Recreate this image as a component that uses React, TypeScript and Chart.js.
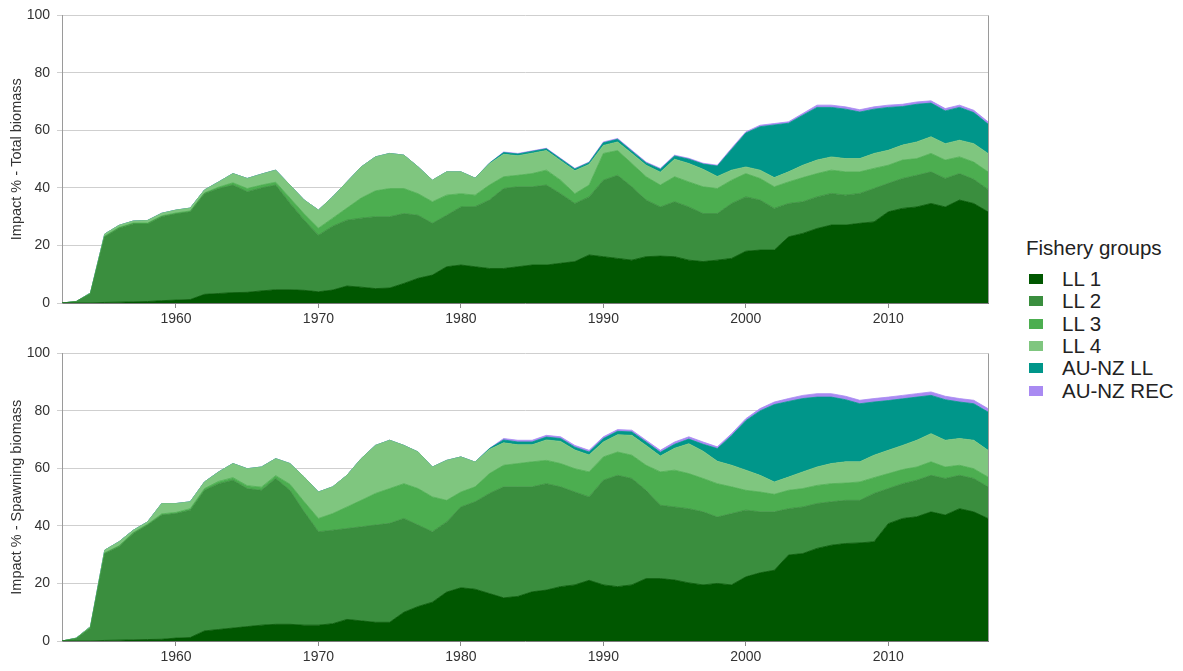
import React, { useEffect, useRef } from "react";
import { Chart, registerables } from "chart.js";

Chart.register(...registerables);

const years = [
  1952, 1953, 1954, 1955, 1956, 1957, 1958, 1959, 1960, 1961,
  1962, 1963, 1964, 1965, 1966, 1967, 1968, 1969, 1970, 1971,
  1972, 1973, 1974, 1975, 1976, 1977, 1978, 1979, 1980, 1981,
  1982, 1983, 1984, 1985, 1986, 1987, 1988, 1989, 1990, 1991,
  1992, 1993, 1994, 1995, 1996, 1997, 1998, 1999, 2000, 2001,
  2002, 2003, 2004, 2005, 2006, 2007, 2008, 2009, 2010, 2011,
  2012, 2013, 2014, 2015, 2016, 2017,
];

const xTickYears = [1960, 1970, 1980, 1990, 2000, 2010];
const yTickValues = [0, 20, 40, 60, 80, 100];

const groupNames = ["LL 1", "LL 2", "LL 3", "LL 4", "AU-NZ LL", "AU-NZ REC"];
const groupColors = ["#005700", "#3a8e3e", "#4cae50", "#7fc67f", "#00968a", "#a98af2"];

// Panel 1: Impact % - Total biomass
const totalLL1 = [
  0, 0, 0, 0.2, 0.3, 0.4, 0.5, 0.8, 1, 1.2,
  3, 3.3, 3.6, 3.7, 4.2, 4.6, 4.6, 4.4, 3.9, 4.5,
  5.9, 5.5, 5, 5.2, 6.8, 8.6, 9.7, 12.6, 13.2, 12.6,
  12, 12, 12.6, 13.2, 13.2, 13.8, 14.4, 16.7, 16.1, 15.5,
  14.9, 16.1, 16.3, 16.1, 14.9, 14.4, 14.9, 15.5, 18, 18.4,
  18.4, 23, 24.2, 25.9, 27.1, 27.1, 27.7, 28.2, 31.7, 32.9,
  33.4, 34.6, 33.4, 35.8, 34.6, 31.7,
];
const totalLL2 = [
  0, 0.5, 3.2, 22.8, 25.7, 27.1, 27, 29.2, 30, 30.5,
  35, 36.5, 37.4, 35, 35.8, 36.4, 30.1, 24.4, 19.7, 22.2,
  22.9, 24, 25, 24.8, 24.3, 21.9, 18, 17.9, 20.2, 20.9,
  23.8, 27.8, 27.8, 27.2, 27.8, 24.2, 20.2, 20.2, 26.6, 28.9,
  25.5, 19.7, 17.1, 19.1, 18.5, 16.7, 16.2, 19.1, 18.9, 17.4,
  14.5, 11.6, 11, 11, 11, 10.4, 10.4, 11.6, 9.9, 10.4,
  11, 11, 9.9, 9.2, 8.4, 7.8,
];
const totalLL3 = [
  0, 0, 0.1, 0.3, 0.3, 0.3, 0.3, 0.3, 0.3, 0.3,
  0.3, 0.5, 0.8, 1.1, 1, 1, 1.8, 2.2, 2.4, 2.8,
  4.2, 7, 9, 9.8, 8.7, 7.5, 7.5, 7, 4.6, 4,
  5.2, 4.1, 4, 4.6, 5.2, 4.7, 3.4, 4.1, 9.3, 8.6,
  8.1, 8.1, 7.6, 8.7, 8.7, 9.3, 8.7, 8.1, 8.1, 7.5,
  7.5, 7.5, 8.4, 8.1, 8.1, 8.1, 7.5, 7, 6.3, 6.4,
  5.8, 6.4, 6.4, 5.8, 6, 6.1,
];
const totalLL4 = [
  0, 0, 0.2, 0.7, 0.7, 0.7, 0.9, 0.9, 1, 1,
  1, 1.8, 3.2, 3.5, 3.8, 4.2, 4.5, 4.8, 6.3, 7.4,
  9.1, 10.8, 11.8, 12.2, 11.6, 9.3, 7.5, 8.1, 7.6, 5.9,
  7.4, 7.8, 6.8, 7.1, 6.8, 6.8, 8, 7.2, 2.8, 3,
  3.5, 4, 4.5, 6.1, 6.4, 6.1, 4.2, 3.5, 2.3, 2.9,
  3.2, 3.5, 4.3, 4.7, 4.6, 4.6, 4.6, 5.2, 5.2, 5.2,
  5.8, 5.8, 5.7, 5.8, 6.4, 6.4,
];
const totalAUNZLL = [
  0, 0, 0, 0, 0, 0, 0, 0, 0, 0,
  0, 0, 0, 0, 0, 0, 0, 0, 0, 0,
  0, 0, 0, 0, 0, 0, 0, 0, 0, 0,
  0.2, 0.6, 0.6, 0.6, 0.6, 0.6, 0.6, 0.6, 0.9, 0.9,
  0.8, 0.8, 1, 1.1, 1.5, 1.8, 3.6, 7.2, 11.8, 15.1,
  18.3, 16.9, 17.4, 18.3, 17.2, 17.2, 16.2, 15.4, 14.9, 13.4,
  13.1, 11.7, 11.4, 11.4, 10.8, 10.2,
];
const totalAUNZREC = [
  0, 0, 0, 0, 0, 0, 0, 0, 0, 0,
  0, 0, 0, 0, 0, 0, 0, 0, 0, 0,
  0, 0, 0, 0, 0, 0, 0, 0, 0, 0,
  0, 0.2, 0.2, 0.2, 0.2, 0.2, 0.2, 0.2, 0.3, 0.3,
  0.3, 0.3, 0.3, 0.3, 0.3, 0.3, 0.3, 0.4, 0.4, 0.5,
  0.5, 0.5, 0.6, 0.8, 0.8, 0.8, 0.8, 0.8, 0.8, 0.8,
  0.8, 0.8, 0.8, 0.8, 0.8, 0.8,
];

// Panel 2: Impact % - Spawning biomass
const spawnLL1 = [
  0, 0, 0, 0.2, 0.3, 0.4, 0.5, 0.6, 1, 1.2,
  3.5, 4, 4.5, 5, 5.5, 5.8, 5.8, 5.5, 5.5, 6,
  7.5, 7, 6.5, 6.5, 10, 12, 13.5, 17, 18.5, 18,
  16.5, 15, 15.5, 17.1, 17.7, 18.9, 19.5, 21.1, 19.5, 18.9,
  19.5, 21.7, 21.7, 21.2, 20.2, 19.5, 20, 19.5, 22.3, 23.7,
  24.6, 29.9, 30.4, 32.2, 33.3, 33.9, 34.1, 34.5, 40.8, 42.6,
  43.2, 44.9, 43.8, 46, 44.9, 42.6,
];
const spawnLL2 = [
  0, 0.8, 4.5, 30.2, 32.5, 37, 39.8, 43.2, 43.3, 44.3,
  48.9, 50.7, 51.4, 48, 46.9, 50.7, 46.6, 39.4, 32.5, 32.5,
  31.6, 32.7, 33.8, 34.4, 32.6, 28.3, 24.5, 24.4, 28.1, 30.4,
  34.8, 38.6, 38.1, 36.5, 37, 34.7, 32.3, 29, 36.4, 38.7,
  37, 30.7, 25.5, 25.4, 25.8, 25.4, 23.1, 24.8, 23.2, 21.2,
  20.3, 16.1, 16.2, 15.6, 15.1, 15, 14.8, 16.8, 12.2, 12.1,
  12.7, 12.7, 12.7, 11.6, 11.6, 11,
];
const spawnLL3 = [
  0, 0.1, 0.2, 0.3, 0.3, 0.3, 0.3, 0.4, 0.4, 0.5,
  0.6, 0.8, 0.9, 1, 1.1, 1, 2.1, 3.5, 4.6, 5.8,
  7.5, 9.2, 11, 12.1, 12.1, 12.7, 12.1, 7.5, 5.2, 5.2,
  6.9, 7.5, 8.1, 8.7, 8.1, 8.1, 8.1, 8.7, 8.1, 8.1,
  8.1, 8.7, 11.6, 12.8, 12.2, 11.6, 11.6, 9.3, 6.9, 6.9,
  6.1, 6.4, 6.4, 6.3, 6.3, 6, 6.4, 5.5, 5.2, 4.9,
  4.6, 4.7, 4, 3.5, 3.4, 3.4,
];
const spawnLL4 = [
  0, 0.1, 0.3, 0.9, 1.4, 0.8, 0.8, 3.6, 3.1, 2.4,
  2.3, 3.3, 4.9, 5.9, 7, 5.9, 7.2, 8.6, 9.2, 9.3,
  11, 14.5, 16.7, 16.8, 13.3, 12.7, 10.4, 13.9, 12.2, 8.6,
  8.4, 7.8, 6.5, 5.9, 7.1, 7.7, 6.5, 5.9, 5.2, 6,
  6.9, 6.9, 5.5, 7.6, 10.4, 9.5, 7.8, 7.5, 7, 5.8,
  4.3, 4.6, 5.8, 6.4, 7, 7.4, 7, 7.8, 8.1, 8.4,
  9.3, 9.8, 9.3, 9.3, 9.9, 9.3,
];
const spawnAUNZLL = [
  0, 0, 0, 0, 0, 0, 0, 0, 0, 0,
  0, 0, 0, 0, 0, 0, 0, 0, 0, 0,
  0, 0, 0, 0, 0, 0, 0, 0, 0, 0,
  0.3, 1, 1, 1, 1, 1, 1, 1, 1.2, 1.2,
  1.2, 1.2, 1.3, 1.4, 1.6, 2.4, 4.4, 10.3, 17.2, 22.4,
  26.9, 26.3, 25.5, 24.3, 23.1, 21.6, 20.2, 18.5, 17.3, 16.2,
  15, 13.3, 14.1, 12.7, 12.7, 13.3,
];
const spawnAUNZREC = [
  0, 0, 0, 0, 0, 0, 0, 0, 0, 0,
  0, 0, 0, 0, 0, 0, 0, 0, 0, 0,
  0, 0, 0, 0, 0, 0, 0, 0, 0, 0,
  0, 0.5, 0.6, 0.6, 0.6, 0.6, 0.6, 0.6, 0.6, 0.6,
  0.6, 0.6, 0.7, 0.8, 0.8, 0.8, 0.6, 0.7, 0.7, 0.8,
  0.9, 1, 1.1, 1.2, 1.2, 1.2, 1.2, 1.2, 1.2, 1.2,
  1.2, 1.2, 1.2, 1.2, 1.2, 1.2,
];

const totalSeries = [totalLL1, totalLL2, totalLL3, totalLL4, totalAUNZLL, totalAUNZREC];
const spawnSeries = [spawnLL1, spawnLL2, spawnLL3, spawnLL4, spawnAUNZLL, spawnAUNZREC];

const FONT = "'Liberation Sans', Arial, Helvetica, sans-serif";
const TEXT = "#333333";

const rightBorder = {
  id: "rightBorder",
  afterDraw(chart: any) {
    const { ctx, chartArea } = chart;
    ctx.save();
    ctx.strokeStyle = "#9a9a9a";
    ctx.lineWidth = 1;
    ctx.beginPath();
    ctx.moveTo(Math.round(chartArea.right) + 0.5, chartArea.top);
    ctx.lineTo(Math.round(chartArea.right) + 0.5, chartArea.bottom);
    ctx.stroke();
    ctx.restore();
  },
};

function Panel({ top, series, yTitle }: { top: number; series: number[][]; yTitle: string }) {
  const ref = useRef<HTMLCanvasElement>(null);
  useEffect(() => {
    if (!ref.current) return;
    const chart = new Chart(ref.current, {
      type: "line",
      data: {
        datasets: series.map((vals, i) => ({
          label: groupNames[i],
          data: years.map((yr, k) => ({ x: yr, y: vals[k] })),
          backgroundColor: groupColors[i],
          borderColor: groupColors[i],
          borderWidth: 0.8,
          pointRadius: 0,
          pointHoverRadius: 0,
          tension: 0,
          fill: i === 0 ? "origin" : "-1",
        })),
      },
      options: {
        responsive: false,
        animation: false,
        events: [],
        layout: { padding: { left: 8, top: 15, right: 12, bottom: 0 } },
        plugins: {
          legend: { display: false },
          tooltip: { enabled: false },
        },
        scales: {
          x: {
            type: "linear",
            min: 1952,
            max: 2017,
            afterBuildTicks: (s: any) => {
              s.ticks = xTickYears.map((v) => ({ value: v }));
            },
            afterFit: (s: any) => {
              s.height = 27;
            },
            ticks: {
              autoSkip: false,
              maxRotation: 0,
              padding: 3,
              color: TEXT,
              font: { family: FONT, size: 14 },
              callback: (v: any) => String(v),
            },
            grid: { drawOnChartArea: false, drawTicks: true, tickLength: 5, color: "#8a8a8a" },
            border: { color: "#7a7a7a", width: 1 },
          },
          y: {
            type: "linear",
            stacked: true,
            min: 0,
            max: 100,
            afterBuildTicks: (s: any) => {
              s.ticks = yTickValues.map((v) => ({ value: v }));
            },
            afterFit: (s: any) => {
              s.width = 54;
            },
            ticks: {
              padding: 7,
              color: TEXT,
              font: { family: FONT, size: 14 },
              callback: (v: any) => String(v),
            },
            grid: { color: "#cfcfcf", tickLength: 5, drawTicks: true },
            border: { color: "#9a9a9a", width: 1 },
            title: {
              display: true,
              text: yTitle,
              color: TEXT,
              font: { family: FONT, size: 14.5 },
              padding: { top: 0, bottom: 3 },
            },
          },
        },
      },
      plugins: [rightBorder],
    } as any);
    return () => chart.destroy();
  }, []);
  return (
    <canvas
      ref={ref}
      width={1000}
      height={330}
      style={{ position: "absolute", left: 0, top, width: 1000, height: 330 }}
    />
  );
}

export default function App() {
  return (
    <div
      style={{
        position: "absolute",
        left: 0,
        top: 0,
        width: 1183,
        height: 671,
        background: "#ffffff",
        overflow: "hidden",
        fontFamily: FONT,
      }}
    >
      <Panel top={0} series={totalSeries} yTitle="Impact % - Total biomass" />
      <Panel top={338} series={spawnSeries} yTitle="Impact % - Spawning biomass" />
      <div style={{ position: "absolute", left: 1026, top: 235, color: "#222" }}>
        <div style={{ fontSize: 20.5, lineHeight: "25px", height: 25, whiteSpace: "nowrap" }}>Fishery groups</div>
        <div style={{ marginTop: 8 }}>
          {groupNames.map((name, i) => (
            <div
              key={name}
              style={{ display: "flex", alignItems: "center", height: 22.3, whiteSpace: "nowrap" }}
            >
              <span
                style={{
                  display: "inline-block",
                  width: 14,
                  height: 10,
                  marginLeft: 3,
                  marginRight: 19,
                  background: groupColors[i],
                }}
              />
              <span style={{ fontSize: 20.5, lineHeight: "22px" }}>{name}</span>
            </div>
          ))}
        </div>
      </div>
    </div>
  );
}
